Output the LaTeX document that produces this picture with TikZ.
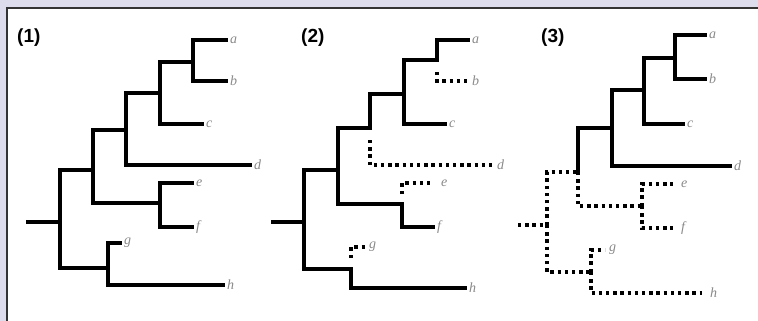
\documentclass[tikz,border=0pt]{standalone}
\usepackage{fontspec}
\setmainfont{Liberation Serif}
\setsansfont{Liberation Sans}
\definecolor{lav}{HTML}{DCDCEC}
\definecolor{lblgray}{HTML}{8A8A8A}
\definecolor{frame}{HTML}{333333}
\begin{document}
\begin{tikzpicture}[x=1pt,y=-1pt,
  br/.style={line width=3.4pt,line cap=rect,black},
  dt/.style={line width=3.2pt,line cap=butt,black,dash pattern=on 3.4pt off 3.8pt},
  lbl/.style={anchor=west,inner sep=0pt,text=lblgray,font=\itshape\fontsize{14}{14}\selectfont},
  ptitle/.style={anchor=west,inner sep=0pt,font=\sffamily\bfseries\fontsize{19}{19}\selectfont}]
\useasboundingbox (0,0) rectangle (758,321);
\fill[lav] (0,0) rectangle (758,321);
\fill[white] (7,8) rectangle (758,321);
\draw[frame,line width=1.2pt] (7,321) -- (7,8) -- (758,8);

% ---------- panel 1 ----------
\node[ptitle] (t1) at (17,38) {(1)};
\coordinate (p1s) at (28,222);
\coordinate (p1r) at (60,222);
\coordinate (p1A) at (93,170);
\coordinate (p1H) at (108,268);
\coordinate (p1B) at (126,130);
\coordinate (p1EF) at (160,203);
\coordinate (p1C) at (160,93);
\coordinate (p1D) at (193,62);
\node[lbl] (p1a) at (230,40) {a};
\node[lbl] (p1b) at (230,81) {b};
\node[lbl] (p1c) at (206,124) {c};
\node[lbl] (p1d) at (254,165) {d};
\node[lbl] (p1e) at (196,183) {e};
\node[lbl] (p1f) at (196,227) {f};
\node[lbl] (p1g) at (124,243) {g};
\node[lbl] (p1h) at (227,285) {h};
\draw[br] (p1s) -- (p1r);
\draw[br] (p1r) |- (p1A);
\draw[br] (p1r) |- (p1H);
\draw[br] (p1A) |- (p1B);
\draw[br] (p1A) |- (p1EF);
\draw[br] (p1B) |- (p1C);
\draw[br] (p1B) |- ([xshift=-4pt]p1d.west);
\draw[br] (p1C) |- (p1D);
\draw[br] (p1C) |- ([xshift=-4pt]p1c.west);
\draw[br] (p1D) |- ([xshift=-4pt]p1a.west);
\draw[br] (p1D) |- ([xshift=-4pt]p1b.west);
\draw[br] (p1EF) |- ([xshift=-4pt]p1e.west);
\draw[br] (p1EF) |- ([xshift=-4pt]p1f.west);
\draw[br] (p1H) |- ([xshift=-4pt]p1g.west);
\draw[br] (p1H) |- ([xshift=-4pt]p1h.west);

% ---------- panel 2 ----------
\node[ptitle] (t2) at (301,38) {(2)};
\coordinate (p2s) at (273,222);
\coordinate (p2r) at (304,222);
\coordinate (p2A) at (338,170);
\coordinate (p2H) at (351,269);
\coordinate (p2B) at (370,128);
\coordinate (p2EF) at (402,204);
\coordinate (p2C) at (404,94);
\coordinate (p2D) at (437,60);
\coordinate (p2Bd) at (370,140);
\coordinate (p2Db) at (437,72);
\coordinate (p2EFe) at (402,194);
\coordinate (p2Hg) at (351,258);
\node[lbl] (p2a) at (472,40) {a};
\node[lbl] (p2b) at (472,81) {b};
\node[lbl] (p2c) at (449,124) {c};
\node[lbl] (p2d) at (497,165) {d};
\node[lbl] (p2e) at (441,183) {e};
\node[lbl] (p2f) at (437,227) {f};
\node[lbl] (p2g) at (369,247) {g};
\node[lbl] (p2h) at (469,288) {h};
\draw[br] (p2s) -- (p2r);
\draw[br] (p2r) |- (p2A);
\draw[br] (p2r) |- (p2H);
\draw[br] (p2A) |- (p2B);
\draw[br] (p2A) |- (p2EF);
\draw[br] (p2B) |- (p2C);
\draw[dt] (p2Bd) |- ([xshift=-4pt]p2d.west);
\draw[br] (p2C) |- (p2D);
\draw[br] (p2C) |- ([xshift=-4pt]p2c.west);
\draw[br] (p2D) |- ([xshift=-4pt]p2a.west);
\draw[dt] (p2Db) |- ([xshift=-4pt]p2b.west);
\draw[dt] (p2EFe) |- ([xshift=-8pt]p2e.west);
\draw[br] (p2EF) |- ([xshift=-4pt]p2f.west);
\draw[dt] (p2Hg) |- ([xshift=-4pt]p2g.west);
\draw[br] (p2H) |- ([xshift=-4pt]p2h.west);

% ---------- panel 3 ----------
\node[ptitle] (t3) at (541,38) {(3)};
\coordinate (p3s) at (518,225);
\coordinate (p3r) at (547,225);
\coordinate (p3A) at (578,172);
\coordinate (p3H) at (591,272);
\coordinate (p3B) at (612,128);
\coordinate (p3EF) at (642,206);
\coordinate (p3C) at (644,90);
\coordinate (p3D) at (675,58);
\node[lbl] (p3a) at (709,35) {a};
\node[lbl] (p3b) at (709,79) {b};
\node[lbl] (p3c) at (687,124) {c};
\node[lbl] (p3d) at (734,166) {d};
\node[lbl] (p3e) at (681,184) {e};
\node[lbl] (p3f) at (681,228) {f};
\node[lbl] (p3g) at (609,250) {g};
\node[lbl] (p3h) at (710,293) {h};
\draw[dt] (p3s) -- (p3r);
\draw[dt] (p3r) |- (p3A);
\draw[dt] (p3r) |- (p3H);
\draw[br] (p3A) |- (p3B);
\draw[dt] (p3A) |- (p3EF);
\draw[br] (p3B) |- (p3C);
\draw[br] (p3B) |- ([xshift=-4pt]p3d.west);
\draw[br] (p3C) |- (p3D);
\draw[br] (p3C) |- ([xshift=-4pt]p3c.west);
\draw[br] (p3D) |- ([xshift=-4pt]p3a.west);
\draw[br] (p3D) |- ([xshift=-4pt]p3b.west);
\draw[dt] (p3EF) |- ([xshift=-8pt]p3e.west);
\draw[dt] (p3EF) |- ([xshift=-8pt]p3f.west);
\draw[dt] (p3H) |- ([xshift=-4pt]p3g.west);
\draw[dt] (p3H) |- ([xshift=-8pt]p3h.west);
\end{tikzpicture}
\end{document}
